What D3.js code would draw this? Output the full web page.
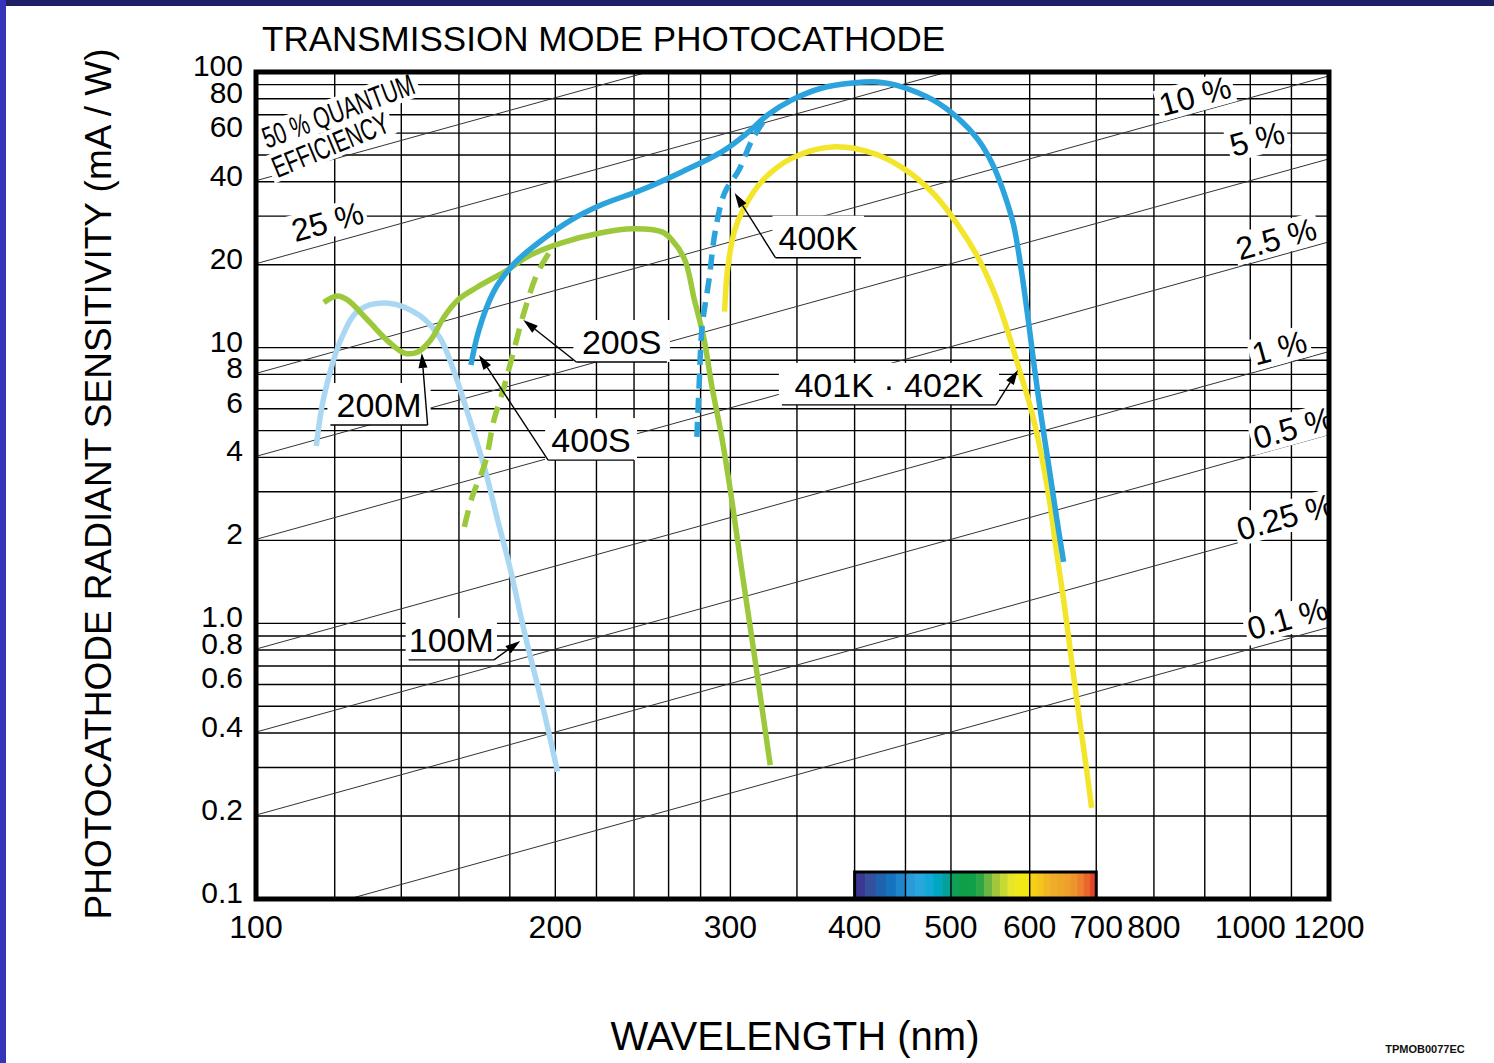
<!DOCTYPE html>
<html><head><meta charset="utf-8">
<script src="https://cdn.jsdelivr.net/npm/d3@7"></script>
<style>
html,body{margin:0;padding:0;background:#fff;}
svg{display:block;font-family:"Liberation Sans",Arial,Helvetica,sans-serif;}
</style></head><body>
<svg id="chart" width="1494" height="1063"></svg>
<script>
// ---------------- DATA ----------------
const xTickValues = [100,200,300,400,500,600,700,800,1000,1200];
const xTickLabels = ["100","200","300","400","500","600","700","800","1000","1200"];
const xGridValues = [120,140,160,180,200,220,240,260,280,300,350,400,450,500,600,700,800,900,1000,1100];
const yTickValues = [100,80,60,40,20,10,8,6,4,2,1,0.8,0.6,0.4,0.2,0.1];
const yTickLabels = ["100","80","60","40","20","10","8","6","4","2","1.0","0.8","0.6","0.4","0.2","0.1"];
const yGridValues = [0.2,0.3,0.4,0.5,0.6,0.7,0.8,0.9,1,2,3,4,5,6,7,8,9,10,20,30,40,50,60,70,80,90];

// quantum-efficiency reference lines (percent)
const qeValues = [50,25,10,5,2.5,1,0.5,0.25,0.1];
const qeLabelTexts = ["25 %","10 %","5 %","2.5 %","1 %","0.5 %","0.25 %","0.1 %"];
const qeLabelPos = [[118,28.6],[880,81.8],[1016,57.1],[1062,24.8],[1070,9.98],[1105,5.11],[1085,2.43],[1090,1.04]];
const qeTitleLines = ["50 % QUANTUM","EFFICIENCY"];
const qeTitlePos = [[121,72.2],[118.8,54.4]];

// spectral response curves [wavelength nm, sensitivity mA/W]
const curve100M = [[115,4.4],[117,6.6],[122,10.9],[127,13.7],[136,14.5],[146,13.1],[153,10.9],[158,8.3],[164,5.5],[170,3.6],[175,2.37],[180,1.6],[187,0.87],[194,0.51],[201,0.29]];
const curve200M = [[117,14.6],[120.7,15.4],[123.6,14.9],[129.5,12.6],[136,10.5],[141,9.56],[145.4,9.64],[150,10.7],[154.5,12.9],[159.6,14.9],[167,16.6],[177.6,18.8],[189,21.7],[203,24.0],[222.6,26.1],[239,27.0],[256,26.3],[262,24.6],[270,20.8],[276,14.9],[282,10.9],[287.5,7.2],[294,4.75],[301,2.8],[308,1.56],[315.5,0.87],[323,0.485],[329,0.306]];
const curve200S = [[162,2.24],[165,2.88],[170,3.82],[173.5,5.46],[177.6,7.2],[181.4,9.57],[186,13.4],[192,18.7],[199.5,23.6]];
const curve400S = [[164.5,8.66],[167,11.1],[171,14.3],[175,16.9],[182.6,20.5],[194,24.6],[207.6,29.1],[222.6,33.0],[244,37.3],[268,43.4],[294,51.3],[312,60.1],[327,69.8],[346,79.2],[371,87.5],[398,91.2],[422,92.0],[447,88.2],[479.5,79.2],[508,68.1],[532.5,56.7],[551,46.0],[564,37.3],[578,27.9],[588.5,19.1],[598,12.6],[607,8.3],[617,5.46],[628,3.6],[638,2.47],[649,1.67]];
const curve400K = [[277.6,4.75],[279,7.2],[281,11.9],[285.5,17.6],[289.5,26.1],[296,36.4],[306,44.1],[315.5,56.7],[327,69.8]];
const curve401K = [[296,13.5],[298,19.1],[303,26.7],[310,32.4],[323,40.3],[346,48.7],[380,53.5],[417,50.8],[447,44.9],[479.5,36.4],[508,27.9],[532.5,21.2],[554,15.5],[571,11.3],[587,8.1],[601,6.1],[615,4.26],[628,2.8],[638,1.85],[649,1.22],[661,0.737],[673.5,0.446],[684.6,0.294],[692.5,0.214]];

// annotation labels: text, underline span (nm), underline level (mA/W), arrow tip, leader side
const annTexts = ["200M","200S","400S","400K","401K · 402K","100M"];
const annUnder = [[118.8,148.8,5.24],[210,259,8.87],[196.7,240,3.91],[333,406,21.2],[338,555,6.2],[142.4,173.5,0.737]];
const annTips = [[146.8,9.57],[185.7,12.6],[167.6,9.41],[303,36.4],[584,8.3],[184.4,0.863]];
const annSide = ["right","left","left","left","right","right"];

// visible spectrum bar
const spectrumNm = [400,410,420,430,440,450,460,470,480,490,500,510,520,530,540,550,560,570,580,590,600,610,620,630,640,650,660,670,680,690,700];
const spectrumColors = ["#3b3893","#3650a0","#1f63ae","#1673bd","#2086cb","#2a9bd8","#2aa6de","#12a9d6","#00a6c2","#02a199","#0ea055","#0e9f49","#10a048","#2da647","#6db543","#a3c73a","#c8d934","#e6e52a","#f1e81c","#f4e813","#f6d016","#f4c41f","#f1b526","#efab29","#eea629","#eea02a","#ed942c","#ec802d","#ea662b","#e3452a"];

// ---------------- CHART ----------------
const svg = d3.select("#chart");
const x = d3.scaleLog().domain([100,1200]).range([256,1329]);
const y = d3.scaleLog().domain([0.1,100]).range([899,72]);
const X0 = x(100), X1 = x(1200), Y0 = y(0.1), Y1 = y(100);

// page frame accents
svg.append("rect").attr("x",0).attr("y",0).attr("width",1494).attr("height",1063).attr("fill","#fff");
svg.append("rect").attr("x",0).attr("y",0).attr("width",1494).attr("height",6).attr("fill","#1f1f66");
svg.append("rect").attr("x",0).attr("y",0).attr("width",6).attr("height",1063).attr("fill","#3434bb");

svg.append("defs").append("clipPath").attr("id","plotclip")
  .append("rect").attr("x",X0).attr("y",Y1).attr("width",X1-X0).attr("height",Y0-Y1);

const plot = svg.append("g").attr("clip-path","url(#plotclip)");

// spectrum bar (behind grid)
const barH = 27;
plot.append("g").selectAll("rect").data(spectrumColors).join("rect")
  .attr("x",(d,i)=>x(spectrumNm[i]))
  .attr("width",(d,i)=>x(spectrumNm[i+1])-x(spectrumNm[i])+0.6)
  .attr("y",Y0-barH).attr("height",barH).attr("fill",d=>d);

// grid
const grid = plot.append("g").attr("stroke","#000").attr("stroke-width",1.4);
grid.selectAll("line.v").data(xGridValues).join("line").attr("class","v")
  .attr("x1",d=>x(d)).attr("x2",d=>x(d)).attr("y1",Y1).attr("y2",Y0);
grid.selectAll("line.h").data(yGridValues).join("line").attr("class","h")
  .attr("y1",d=>y(d)).attr("y2",d=>y(d)).attr("x1",X0).attr("x2",X1);

// QE lines: S[mA/W] = QE * lambda[nm] / 1239.8 * 1000
const qeS = (qe,l)=> qe/100*l/1.2398;
const qeLine = d3.line().x(d=>x(d[0])).y(d=>y(d[1]));
plot.append("g").selectAll("path").data(qeValues).join("path")
  .attr("d",q=>qeLine([[100,qeS(q,100)],[1200,qeS(q,1200)]]))
  .attr("fill","none").attr("stroke","#333").attr("stroke-width",1);

// rotated labels with white background
function boxedLabel(parent, px, py, txt, angle, size, opts={}) {
  const g = parent.append("g").attr("transform",`translate(${px},${py}) rotate(${angle})`);
  const r = g.append("rect").attr("fill","#fff");
  const t = g.append("text").attr("text-anchor","middle").attr("dominant-baseline","central")
    .attr("font-size",size).attr("fill","#000").text(txt);
  if (opts.len) t.attr("textLength",opts.len).attr("lengthAdjust","spacingAndGlyphs");
  const b = t.node().getBBox();
  const p = opts.pad ?? 3;
  r.attr("x",b.x-p).attr("y",b.y+2).attr("width",b.width+2*p).attr("height",b.height-4);
  return g;
}
const qeAngle = -Math.atan((y(1)-y(10))/(x(1000)-x(100)))*180/Math.PI;
qeLabelTexts.forEach((t,i)=>{
  boxedLabel(plot, x(qeLabelPos[i][0]), y(qeLabelPos[i][1]), t, qeAngle, 32);
});
boxedLabel(plot, x(qeTitlePos[0][0]), y(qeTitlePos[0][1]), qeTitleLines[0], -20.5, 30, {len:160, pad:4});
boxedLabel(plot, x(qeTitlePos[1][0]), y(qeTitlePos[1][1]), qeTitleLines[1], -22.5, 30, {len:124, pad:4});

// annotation boxes
const ann = plot.append("g");
annTexts.forEach((t,i)=>{
  const [a,b,s] = annUnder[i];
  const xa = x(a), xb = x(b), yl = y(s);
  ann.append("rect").attr("x",xa-3).attr("y",yl-42).attr("width",xb-xa+6).attr("height",42).attr("fill","#fff");
  ann.append("text").attr("x",(xa+xb)/2).attr("y",yl-8).attr("text-anchor","middle")
    .attr("font-size",34).attr("fill","#000").text(t);
  ann.append("line").attr("x1",xa).attr("x2",xb).attr("y1",yl).attr("y2",yl)
    .attr("stroke","#000").attr("stroke-width",1.4);
});

// curves
const curveGen = d3.line().x(d=>x(d[0])).y(d=>y(d[1])).curve(d3.curveCatmullRom.alpha(0.5));
const curves = [
  {data:curve100M, color:"#aad8f3", dash:null},
  {data:curve200S, color:"#9cc83c", dash:"17 10"},
  {data:curve200M, color:"#9cc83c", dash:null},
  {data:curve401K, color:"#f2e52a", dash:null},
  {data:curve400K, color:"#2ba3dc", dash:"15 9"},
  {data:curve400S, color:"#2ba3dc", dash:null},
];
plot.append("g").selectAll("path").data(curves).join("path")
  .attr("d",c=>curveGen(c.data)).attr("fill","none")
  .attr("stroke",c=>c.color).attr("stroke-width",5.5)
  .attr("stroke-dasharray",c=>c.dash);

// leaders with arrowheads
const lead = plot.append("g");
annTexts.forEach((t,i)=>{
  const [a,b,s] = annUnder[i];
  const sx = annSide[i]==="left" ? x(a) : x(b), sy = y(s);
  const tx = x(annTips[i][0]), ty = y(annTips[i][1]);
  const ang = Math.atan2(ty-sy, tx-sx);
  const L = 15, Wd = 4.5;
  const bx = tx - L*Math.cos(ang), by = ty - L*Math.sin(ang);
  lead.append("line").attr("x1",sx).attr("y1",sy).attr("x2",bx).attr("y2",by)
    .attr("stroke","#000").attr("stroke-width",1.4);
  const p1 = [bx + Wd*Math.sin(ang), by - Wd*Math.cos(ang)];
  const p2 = [bx - Wd*Math.sin(ang), by + Wd*Math.cos(ang)];
  lead.append("path").attr("d",`M${tx},${ty}L${p1[0]},${p1[1]}L${p2[0]},${p2[1]}Z`).attr("fill","#000");
});

// spectrum bar border
svg.append("rect").attr("x",x(400)).attr("y",Y0-barH).attr("width",x(700)-x(400)).attr("height",barH)
  .attr("fill","none").attr("stroke","#000").attr("stroke-width",3);

// plot frame
svg.append("rect").attr("x",X0).attr("y",Y1).attr("width",X1-X0).attr("height",Y0-Y1)
  .attr("fill","none").attr("stroke","#000").attr("stroke-width",5);

// tick labels
svg.append("g").selectAll("text").data(xTickValues).join("text")
  .attr("x",d=>x(d)).attr("y",Y0+39).attr("text-anchor","middle")
  .attr("font-size",32).attr("fill","#000").text((d,i)=>xTickLabels[i]);
svg.append("g").selectAll("text").data(yTickValues).join("text")
  .attr("x",243).attr("y",d=>y(d)+4).attr("text-anchor","end")
  .attr("font-size",30).attr("fill","#000").text((d,i)=>yTickLabels[i]);

// titles
svg.append("text").attr("x",262).attr("y",51).attr("font-size",35).attr("fill","#000")
  .text("TRANSMISSION MODE PHOTOCATHODE");
svg.append("text").attr("transform","translate(111,484) rotate(-90)").attr("text-anchor","middle")
  .attr("font-size",37).attr("fill","#000").text("PHOTOCATHODE RADIANT SENSITIVITY (mA / W)");
svg.append("text").attr("x",795).attr("y",1050).attr("text-anchor","middle")
  .attr("font-size",40).attr("fill","#000").text("WAVELENGTH (nm)");
svg.append("text").attr("x",1425).attr("y",1053).attr("text-anchor","middle")
  .attr("font-size",11).attr("font-weight","bold").attr("fill","#111").text("TPMOB0077EC");
</script>
</body></html>
